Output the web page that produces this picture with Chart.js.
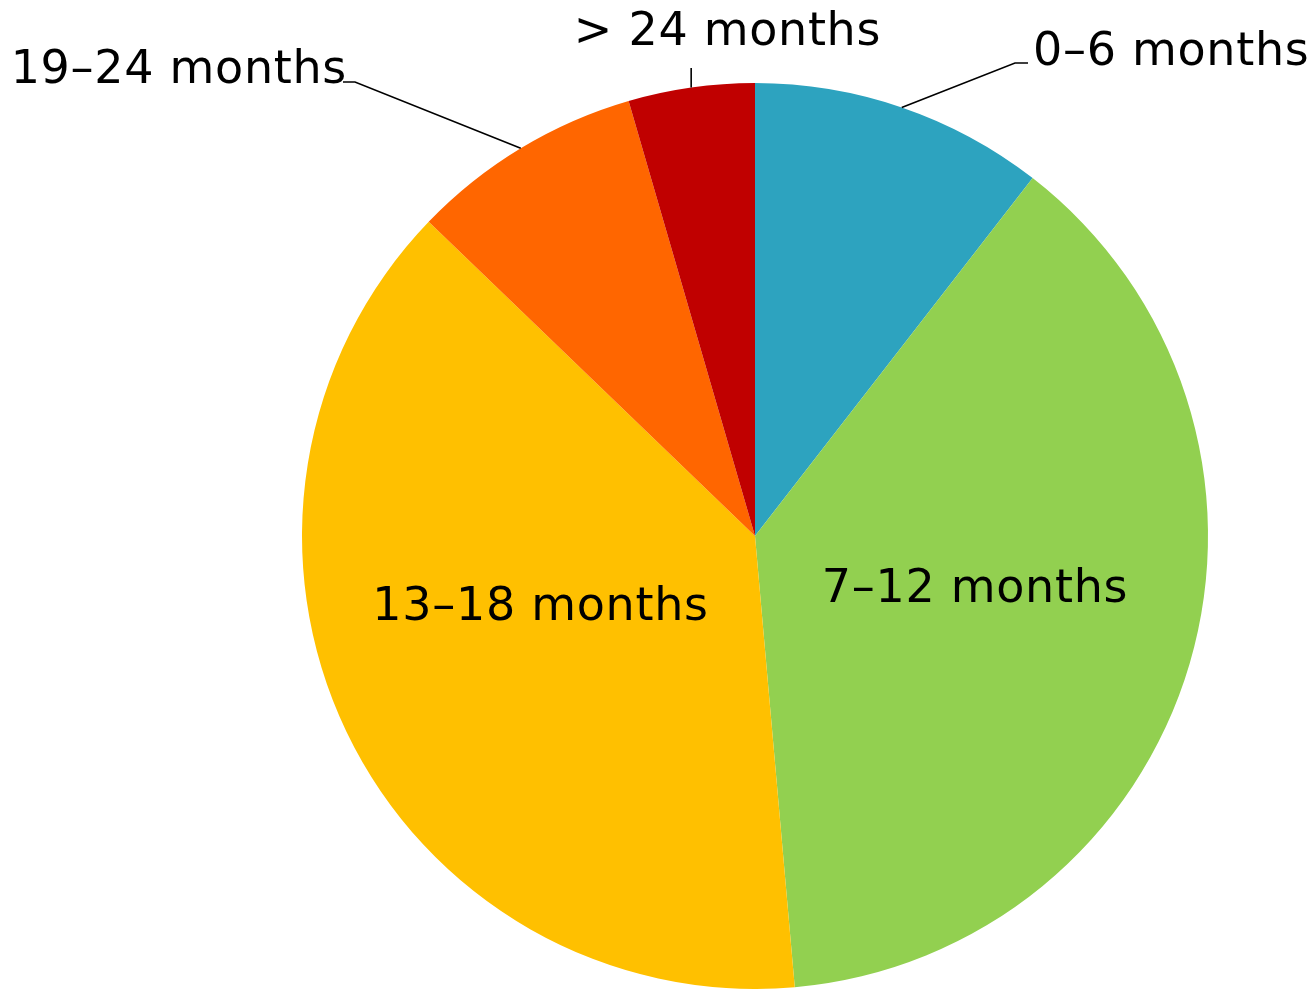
<!DOCTYPE html>
<html>
<head>
<meta charset="utf-8">
<script src="https://cdn.jsdelivr.net/npm/chart.js@4/dist/chart.umd.min.js"></script>
<style>
  html, body { margin: 0; padding: 0; background: #fff; }
  #wrap { width: 1315px; height: 989px; }
</style>
</head>
<body>
<div id="wrap"><canvas id="myChart" width="1315" height="989"></canvas></div>
<script>
var labels = ['0–6 months', '7–12 months', '13–18 months', '19–24 months', '> 24 months'];
var values = [10.5, 38.1, 38.6, 8.3, 4.5];
var colors = ['#2DA3BF', '#92D050', '#FFC000', '#FF6600', '#C00000'];

// where each label goes, relative to pie centre (px)
var labelLayout = [
  { type: 'out', elbow: [260, -473], end: [273, -473], tx: 278, ty: -471, align: 'left' },
  { type: 'in', tx: 220, ty: 66, align: 'center' },
  { type: 'in', tx: -214.5, ty: 84, align: 'center' },
  { type: 'out', elbow: [-400, -454], end: [-412, -454], tx: -408, ty: -453, align: 'right' },
  { type: 'out', elbow: null, end: [-63, -468], tx: -27.5, ty: -491, align: 'center' }
];

var pieLabels = {
  id: 'pieLabels',
  afterDatasetsDraw: function(chart) {
    var ctx = chart.ctx;
    var arcs = chart.getDatasetMeta(0).data;
    ctx.save();
    ctx.font = '46px "DejaVu Sans"';
    ctx.letterSpacing = '0.7px';
    ctx.fillStyle = '#000';
    ctx.strokeStyle = '#000';
    ctx.lineWidth = 1.6;
    ctx.textBaseline = 'alphabetic';
    arcs.forEach(function(arc, i) {
      var p = arc.getProps(['x', 'y', 'startAngle', 'endAngle', 'outerRadius'], true);
      var lay = labelLayout[i];
      var mid = (p.startAngle + p.endAngle) / 2;
      if (lay.type === 'out') {
        var sx = p.x + Math.cos(mid) * p.outerRadius;
        var sy = p.y + Math.sin(mid) * p.outerRadius;
        ctx.beginPath();
        ctx.moveTo(sx, sy);
        if (lay.elbow) {
          ctx.lineTo(p.x + lay.elbow[0], p.y + lay.elbow[1]);
          ctx.lineTo(p.x + lay.end[0], p.y + lay.end[1]);
        } else {
          ctx.lineTo(sx, p.y + lay.end[1]);
        }
        ctx.stroke();
      }
      ctx.textAlign = lay.align;
      ctx.fillText(labels[i], p.x + lay.tx, p.y + lay.ty);
    });
    ctx.restore();
  }
};

var ctx = document.getElementById('myChart').getContext('2d');
var myChart = new Chart(ctx, {
  type: 'pie',
  data: {
    labels: labels,
    datasets: [{
      data: values,
      backgroundColor: colors,
      borderWidth: 0
    }]
  },
  options: {
    responsive: false,
    animation: false,
    layout: { padding: { left: 295, right: 100, top: 83, bottom: 0 } },
    plugins: {
      legend: { display: false },
      tooltip: { enabled: false }
    }
  },
  plugins: [pieLabels]
});
</script>
</body>
</html>
